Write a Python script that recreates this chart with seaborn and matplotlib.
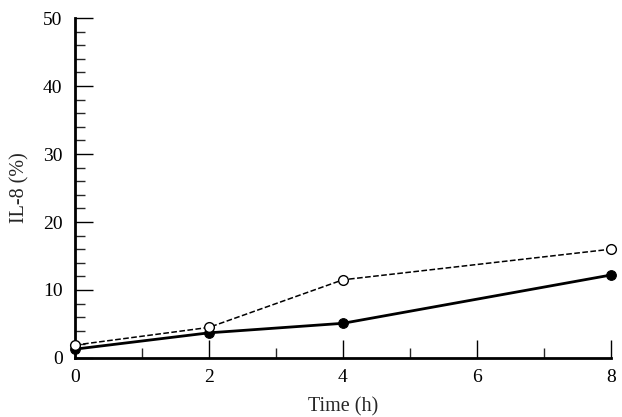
import matplotlib
matplotlib.use("Agg")
import matplotlib.pyplot as plt
from matplotlib.ticker import MultipleLocator
import seaborn as sns
import pandas as pd

time_h = [0, 2, 4, 8]
filled_vals = [1.3, 3.7, 5.1, 12.2]
open_vals = [1.9, 4.5, 11.5, 16.0]

sns.set_style("ticks")
plt.rcParams['font.family'] = ['Liberation Serif', 'DejaVu Serif']

fig = plt.figure(figsize=(6.22, 4.17), dpi=100)
ax = fig.add_axes([0.1206, 0.1415, 0.8614, 0.8153])

df_open = pd.DataFrame({"t": time_h, "v": open_vals})
df_filled = pd.DataFrame({"t": time_h, "v": filled_vals})

sns.lineplot(data=df_open, x="t", y="v", ax=ax, color="black", linestyle="--",
             linewidth=1.1, marker="o", markersize=7, markerfacecolor="white",
             markeredgecolor="black", markeredgewidth=1.0, zorder=3)
sns.lineplot(data=df_filled, x="t", y="v", ax=ax, color="black", linestyle="-",
             linewidth=2.0, marker="o", markersize=7, markerfacecolor="black",
             markeredgecolor="black", zorder=2)

ax.set_xlim(0, 8)
ax.set_ylim(0, 50)
ax.xaxis.set_major_locator(MultipleLocator(2))
ax.xaxis.set_minor_locator(MultipleLocator(1))
ax.yaxis.set_major_locator(MultipleLocator(10))
ax.yaxis.set_minor_locator(MultipleLocator(2))
ax.tick_params(which="major", direction="in", length=13, width=1.0, labelsize=14,
               colors="black")
ax.tick_params(which="minor", direction="in", length=7, width=1.0)
ax.tick_params(axis="y", which="major", pad=9)
ax.tick_params(axis="x", which="major", pad=8)

for s in ["top", "right"]:
    ax.spines[s].set_visible(False)
for s in ["left", "bottom"]:
    ax.spines[s].set_linewidth(2.0)
    ax.spines[s].set_color("black")

for m in ax.lines:
    m.set_clip_on(False)

ax.set_xlabel("Time (h)", fontsize=14.5, labelpad=8)
ax.set_ylabel("IL-8 (%)", fontsize=14.5, labelpad=10)

fig.savefig("out.png", dpi=100)
